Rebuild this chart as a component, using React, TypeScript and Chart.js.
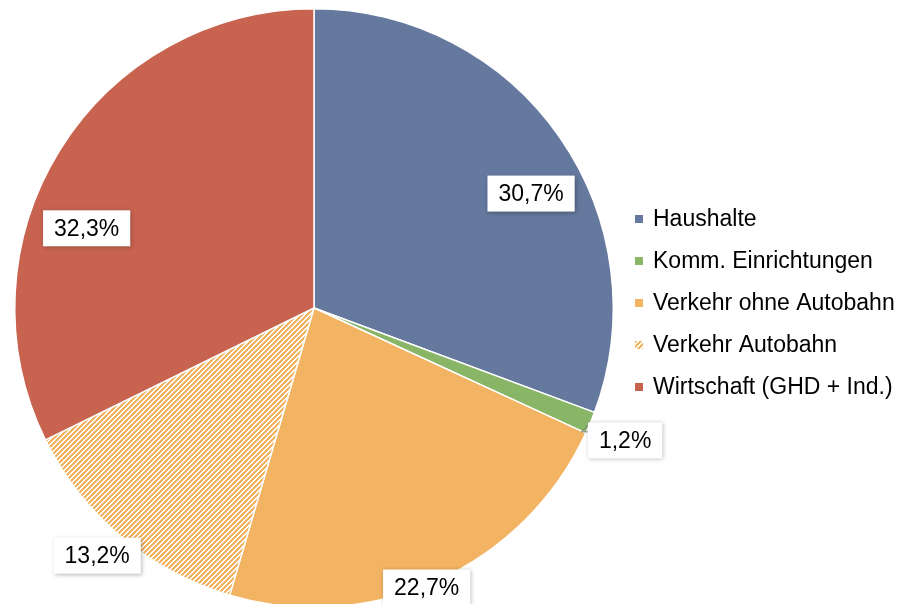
import React, { useEffect, useRef } from "react";
import { Chart, registerables } from "chart.js";

Chart.register(...registerables);

const categories = [
  "Haushalte",
  "Komm. Einrichtungen",
  "Verkehr ohne Autobahn",
  "Verkehr Autobahn",
  "Wirtschaft (GHD + Ind.)",
];
const shares = [30.7, 1.2, 22.7, 13.2, 32.3];
const shareLabels = ["30,7%", "1,2%", "22,7%", "13,2%", "32,3%"];

const colors = ["#65799F", "#89B566", "#F2B362", "#F2B362", "#C7634F"];
const hatched = [false, false, false, true, false];
// label placement (style): radial fraction and angle shift in degrees
const labelRadius = [0.82, 1.13, 1.007, 1.1, 0.805];
const labelShift = [7.0, 0.5, 2.5, 1.1, -12.6];

const FONT = "23px Arial, 'Liberation Sans', sans-serif";

function makePattern(color: string): CanvasPattern | string {
  const n = 5;
  const c = document.createElement("canvas");
  c.width = n;
  c.height = n;
  const ctx = c.getContext("2d");
  if (!ctx) return color;
  ctx.fillStyle = "#ffffff";
  ctx.fillRect(0, 0, n, n);
  ctx.fillStyle = color;
  for (let y = 0; y < n; y++) {
    for (let x = 0; x < n; x++) {
      const m = (x + y) % n;
      if (m <= 2) ctx.fillRect(x, y, 1, 1);
    }
  }
  const p = ctx.createPattern(c, "repeat");
  return p || color;
}

export default function App() {
  const ref = useRef<HTMLCanvasElement | null>(null);

  useEffect(() => {
    const canvas = ref.current;
    if (!canvas) return;
    const fills = colors.map((c, i) => (hatched[i] ? makePattern(c) : c));

    const labelPlugin = {
      id: "boxLabels",
      afterDatasetsDraw(chart: any) {
        const ctx = chart.ctx as CanvasRenderingContext2D;
        const meta = chart.getDatasetMeta(0);
        ctx.save();
        ctx.font = FONT;
        meta.data.forEach((arc: any, i: number) => {
          const { x, y, startAngle, endAngle, outerRadius } = arc.getProps(
            ["x", "y", "startAngle", "endAngle", "outerRadius"],
            true
          );
          const mid = (startAngle + endAngle) / 2;
          const a = mid + (labelShift[i] * Math.PI) / 180;
          const r = outerRadius * labelRadius[i];
          const cx = x + Math.cos(a) * r;
          const cy = y + Math.sin(a) * r;
          const tw = ctx.measureText(shareLabels[i]).width;
          const bw = tw + 22;
          const bh = 36;
          const bx = cx - bw / 2;
          const by = cy - bh / 2;
          if (i === 1) {
            const px = x + Math.cos(mid) * outerRadius;
            const py = y + Math.sin(mid) * outerRadius;
            ctx.strokeStyle = "#7f7f7f";
            ctx.lineWidth = 1;
            ctx.beginPath();
            ctx.moveTo(px - 1, py + 1);
            ctx.lineTo(px - 9, py + 9);
            ctx.lineTo(bx, py + 9);
            ctx.stroke();
          }
          ctx.save();
          ctx.shadowColor = "rgba(0,0,0,0.28)";
          ctx.shadowBlur = 4;
          ctx.shadowOffsetX = 1;
          ctx.shadowOffsetY = 1;
          ctx.fillStyle = "#ffffff";
          ctx.fillRect(bx, by, bw, bh);
          ctx.restore();
          ctx.fillStyle = "#000000";
          ctx.textAlign = "center";
          ctx.textBaseline = "middle";
          ctx.fillText(shareLabels[i], cx, cy + 1);
        });
        ctx.restore();
      },
      afterDraw(chart: any) {
        const ctx = chart.ctx as CanvasRenderingContext2D;
        ctx.save();
        ctx.font = FONT;
        ctx.textAlign = "left";
        ctx.textBaseline = "middle";
        categories.forEach((name, i) => {
          const rowY = 219 + i * 42;
          ctx.fillStyle = fills[i] as any;
          ctx.fillRect(635, rowY - 4, 8, 8);
          ctx.fillStyle = "#000000";
          ctx.fillText(name, 653, rowY + 1);
        });
        ctx.restore();
      },
    };

    const chart = new Chart(canvas, {
      type: "pie",
      data: {
        labels: categories,
        datasets: [
          {
            data: shares,
            backgroundColor: fills as any,
            borderColor: "#ffffff",
            borderWidth: 1.5,
          },
        ],
      },
      options: {
        responsive: false,
        animation: false,
        devicePixelRatio: 1,
        layout: { padding: { left: 14, top: 8, right: 287, bottom: 8 } },
        plugins: {
          legend: { display: false },
          tooltip: { enabled: false },
        },
      },
      plugins: [labelPlugin],
    });
    return () => chart.destroy();
  }, []);

  return (
    <div
      style={{
        position: "fixed",
        left: 0,
        top: 0,
        width: 901,
        height: 604,
        overflow: "hidden",
        background: "#ffffff",
      }}
    >
      <canvas ref={ref} width={901} height={616} style={{ display: "block" }} />
    </div>
  );
}
